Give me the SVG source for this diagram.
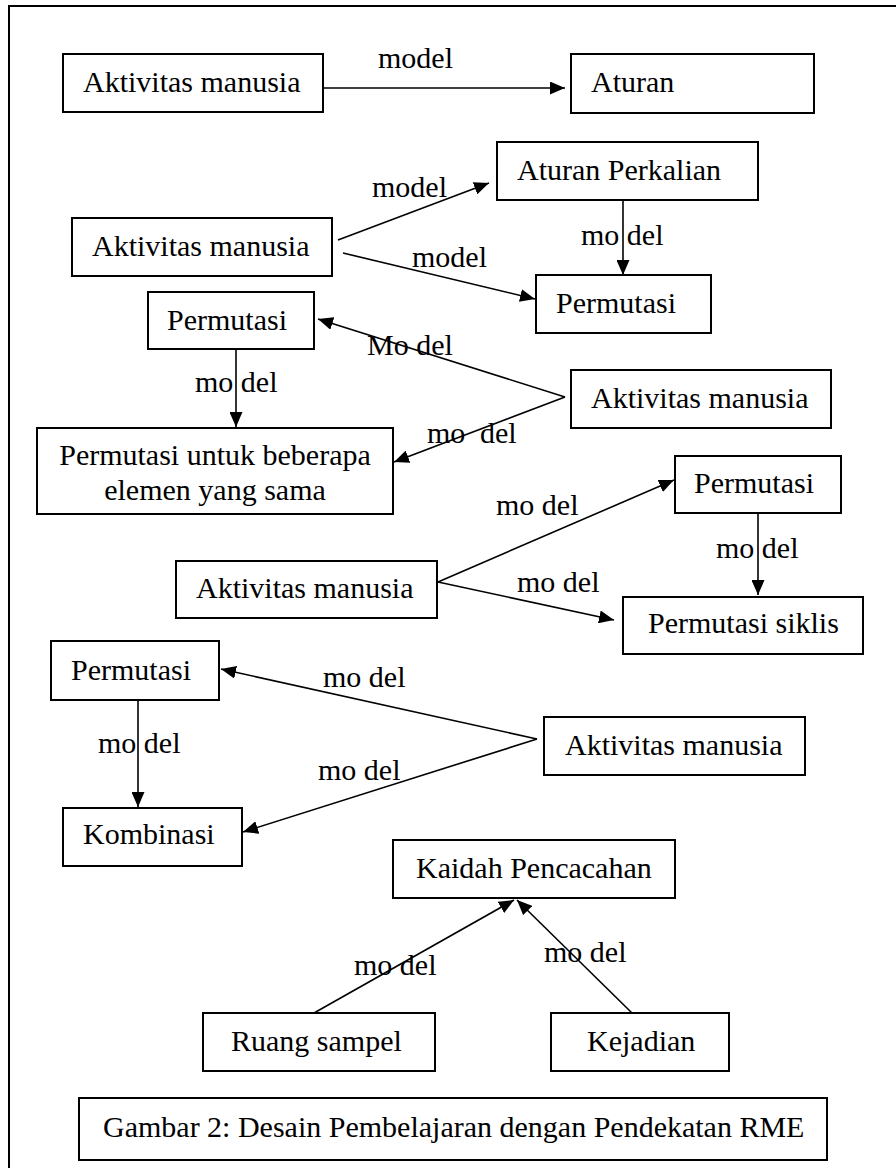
<svg xmlns="http://www.w3.org/2000/svg" width="896" height="1168" viewBox="0 0 896 1168">
<style>
text{font-family:'Liberation Serif','Times New Roman',Times,serif;font-size:30px;fill:#000}
.box{fill:#fff;stroke:#000;stroke-width:2}
.ln{stroke:#000;stroke-width:1.6;fill:none}
.arr{marker-end:url(#ah)}
</style>
<defs>
<marker id="ah" viewBox="0 0 15 13" refX="15" refY="6.5" markerWidth="15" markerHeight="13" markerUnits="userSpaceOnUse" orient="auto"><path d="M0,0 L15,6.5 L0,13 z" fill="#000"/></marker>
</defs>
<rect x="0" y="0" width="896" height="1168" fill="#fff"/>
<rect x="9" y="6" width="900" height="1180" fill="none" stroke="#000" stroke-width="2"/>
<g id="connectors" font-family="Liberation Serif, serif">
<line class="ln arr" x1="323" y1="88" x2="565" y2="88"/>
<line class="ln arr" x1="338" y1="240" x2="489" y2="183"/>
<line class="ln arr" x1="343" y1="253" x2="535" y2="299"/>
<line class="ln arr" x1="623" y1="200" x2="623" y2="275"/>
<line class="ln arr" x1="565" y1="397" x2="318" y2="319"/>
<line class="ln arr" x1="565" y1="397" x2="394" y2="462"/>
<line class="ln arr" x1="236" y1="349" x2="236" y2="427"/>
<line class="ln arr" x1="438" y1="582" x2="674" y2="480"/>
<line class="ln arr" x1="438" y1="582" x2="614" y2="620"/>
<line class="ln arr" x1="758" y1="513" x2="758" y2="595"/>
<line class="ln arr" x1="537" y1="739" x2="221" y2="669"/>
<line class="ln arr" x1="537" y1="739" x2="243" y2="832"/>
<line class="ln arr" x1="138" y1="700" x2="138" y2="807"/>
<line class="ln arr" x1="314" y1="1013" x2="514" y2="900"/>
<line class="ln arr" x1="632" y1="1013" x2="517" y2="900"/>
<text x="378" y="68">model</text>
<text x="372" y="197">model</text>
<text x="412" y="267">model</text>
<text x="581" y="245">mo del</text>
<text x="367" y="355">Mo del</text>
<text x="195" y="392">mo del</text>
<text x="427" y="443">mo<tspan x="480">del</tspan></text>
<text x="496" y="515">mo del</text>
<text x="716" y="558">mo del</text>
<text x="517" y="592">mo del</text>
<text x="323" y="687">mo del</text>
<text x="98" y="753">mo del</text>
<text x="318" y="780">mo del</text>
<text x="354" y="975">mo del</text>
<text x="544" y="962">mo del</text>
</g>
<g id="n1"><rect class="box" x="63" y="54" width="260" height="58"/><text x="83" y="92">Aktivitas manusia</text></g>
<g id="n2"><rect class="box" x="571" y="54" width="243" height="59"/><text x="591" y="92">Aturan</text></g>
<g id="n3"><rect class="box" x="72" y="218" width="260" height="58"/><text x="92" y="256">Aktivitas manusia</text></g>
<g id="n4"><rect class="box" x="497" y="142" width="261" height="58"/><text x="517" y="180">Aturan Perkalian</text></g>
<g id="n5"><rect class="box" x="536" y="275" width="175" height="58"/><text x="556" y="313">Permutasi</text></g>
<g id="n6"><rect class="box" x="148" y="292" width="166" height="57"/><text x="167" y="330">Permutasi</text></g>
<g id="n7"><rect class="box" x="571" y="370" width="260" height="58"/><text x="591" y="408">Aktivitas manusia</text></g>
<g id="n8"><rect class="box" x="37" y="428" width="356" height="86"/><text x="215" y="465" text-anchor="middle">Permutasi untuk beberapa</text><text x="215" y="500" text-anchor="middle">elemen yang sama</text></g>
<g id="n9"><rect class="box" x="675" y="456" width="166" height="57"/><text x="694" y="493">Permutasi</text></g>
<g id="n10"><rect class="box" x="176" y="561" width="261" height="57"/><text x="196" y="598">Aktivitas manusia</text></g>
<g id="n11"><rect class="box" x="623" y="597" width="240" height="57"/><text x="648" y="633">Permutasi siklis</text></g>
<g id="n12"><rect class="box" x="51" y="641" width="168" height="59"/><text x="71" y="680">Permutasi</text></g>
<g id="n13"><rect class="box" x="544" y="717" width="261" height="58"/><text x="565" y="755">Aktivitas manusia</text></g>
<g id="n14"><rect class="box" x="63" y="808" width="179" height="58"/><text x="83" y="844">Kombinasi</text></g>
<g id="n15"><rect class="box" x="393" y="840" width="282" height="58"/><text x="416" y="878">Kaidah Pencacahan</text></g>
<g id="n16"><rect class="box" x="203" y="1013" width="232" height="58"/><text x="231" y="1051">Ruang sampel</text></g>
<g id="n17"><rect class="box" x="551" y="1013" width="178" height="58"/><text x="587" y="1051">Kejadian</text></g>
<g id="caption"><rect class="box" x="79" y="1098" width="748" height="62"/><text x="103" y="1137">Gambar 2: Desain Pembelajaran dengan Pendekatan RME</text></g>
</svg>
